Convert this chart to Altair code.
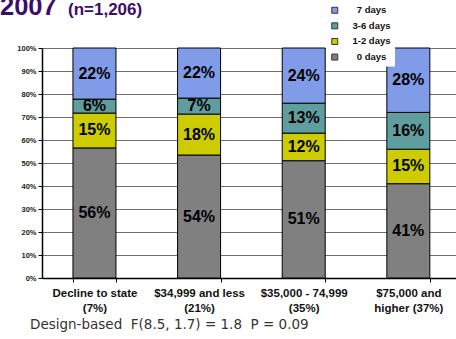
import altair as alt
import pandas as pd

categories = ["Decline to state|(7%)", "$34,999 and less|(21%)",
              "$35,000 - 74,999|(35%)", "$75,000 and|higher (37%)"]
series = ["0 days", "1-2 days", "3-6 days", "7 days"]
days_0 = [56, 54, 51, 41]
days_1_2 = [15, 18, 12, 15]
days_3_6 = [6, 7, 13, 16]
days_7 = [22, 22, 24, 28]
legend_order = ["7 days", "3-6 days", "1-2 days", "0 days"]
legend_colors = ["#809CE8", "#5F9E9E", "#CCCC00", "#808080"]
y_ticks = [0, 0.1, 0.2, 0.3, 0.4, 0.5, 0.6, 0.7, 0.8, 0.9, 1.0]
title_main = "2007"
title_n = "(n=1,206)"
footer = "Design-based\u00a0\u00a0F(8.5, 1.7) = 1.8\u00a0\u00a0P = 0.09"

rows = []
for i, c in enumerate(categories):
    for j, (s, vals) in enumerate(zip(series, [days_0, days_1_2, days_3_6, days_7])):
        rows.append({"cat": c, "series": s, "ord": j, "value": vals[i]})
df = pd.DataFrame(rows)

FONT = "Liberation Sans"

base = alt.Chart(df).transform_stack(
    stack="value", groupby=["cat"], as_=["y0", "y1"],
    sort=[alt.SortField("ord")], offset="normalize"
).transform_calculate(
    mid="(datum.y0 + datum.y1) / 2", label="datum.value + '%'"
)

x_enc = alt.X(
    "cat:N", sort=categories,
    scale=alt.Scale(paddingInner=0.589, paddingOuter=0.273, align=0.542),
    axis=alt.Axis(title=None, labelExpr="split(datum.label, '|')", labelAngle=0,
                  tickBand="extent", tickSize=4, tickColor="black",
                  domainColor="black", domainWidth=1.5,
                  labelFont=FONT, labelFontSize=11.5, labelFontWeight="bold",
                  labelColor="#111", labelPadding=5.5, labelLineHeight=15,
                  grid=False),
)

y_axis = alt.Axis(title=None, format=".0%", values=y_ticks, labelOverlap=False,
                  labelFont=FONT, labelFontSize=7.5, labelFontWeight="bold",
                  labelColor="#222", labelPadding=2, tickSize=4,
                  tickColor="black", domainColor="black", domainWidth=1.5,
                  grid=True, gridColor="#707070", gridWidth=1)
y_scale = alt.Scale(domain=[0, 1], nice=False)

bars = base.mark_bar(stroke="black", strokeWidth=1).encode(
    x=x_enc,
    y=alt.Y("y0:Q", scale=y_scale, axis=y_axis),
    y2="y1:Q",
    color=alt.Color("series:N",
                    scale=alt.Scale(domain=legend_order, range=legend_colors),
                    legend=alt.Legend(title=None, orient="none", legendX=284, legendY=-46.5,
                                      fillColor="white", padding=4,
                                      symbolType="square", symbolSize=36,
                                      symbolStrokeColor="#333", symbolStrokeWidth=1,
                                      labelFont=FONT, labelFontSize=9.5,
                                      labelFontWeight="bold", labelColor="#111",
                                      labelAlign="center", labelOffset=32,
                                      rowPadding=4.6)),
    order=alt.Order("ord:Q"),
)

labels = base.mark_text(font=FONT, fontSize=16, fontWeight="bold", color="black",
                        baseline="middle").encode(
    x=x_enc, y=alt.Y("mid:Q", scale=y_scale, axis=y_axis), text="label:N")

one = pd.DataFrame({"a": [0]})
t1 = alt.Chart(one).mark_text(text=title_main, align="left", baseline="alphabetic",
                              font=FONT, fontSize=25.5, fontWeight="bold",
                              color="#3C0C6C").encode(x=alt.value(-42), y=alt.value(-33))
t2 = alt.Chart(one).mark_text(text=title_n, align="left", baseline="alphabetic",
                              font=FONT, fontSize=17, fontWeight="bold",
                              color="#3C0C6C").encode(x=alt.value(26), y=alt.value(-33))
foot = alt.Chart(one).mark_text(text=footer, align="left", baseline="middle",
                                font="DejaVu Sans", fontSize=13.5,
                                color="#333").encode(x=alt.value(-12), y=alt.value(277))

chart = alt.layer(bars, labels, t1, t2, foot).properties(
    width=414, height=230,
    autosize=alt.AutoSizeParams(type="none"),
    padding={"left": 42, "top": 48, "right": 0, "bottom": 61},
    background="white",
).configure_view(stroke=None)

chart.save("out.html", embed_options={"renderer": "svg", "actions": False})
